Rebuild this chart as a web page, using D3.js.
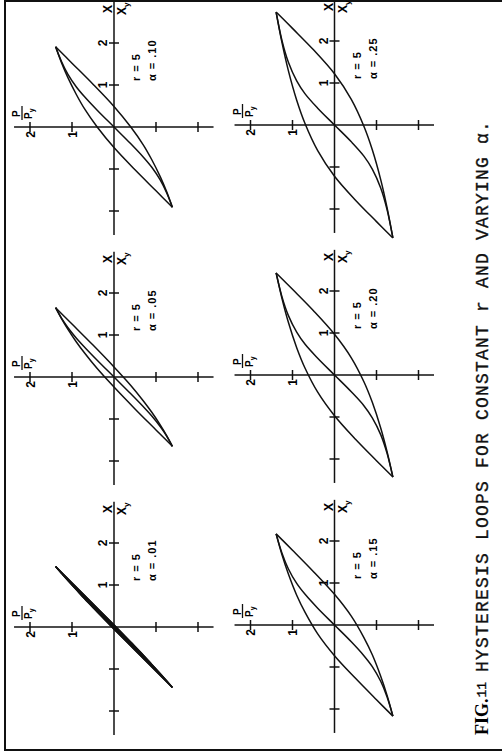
<!DOCTYPE html>
<html>
<head>
<meta charset="utf-8">
<script src="https://cdn.jsdelivr.net/npm/d3@7"></script>
<style>
  body { margin: 0; background: #fff; }
  svg { display: block; }
</style>
</head>
<body>
<svg id="chart" width="502" height="755"></svg>
<script>
// values, [X/Xy, P/Py]
var alphaLabels = [".01", ".05", ".10", ".15", ".20", ".25"];
var rLabel = "5";
var tickValues = [-2, -1, 1, 2];
var tickLabels = [1, 2];

// branch from the + tip down to the - tip
var down01 = [[1.44,1.39],[1.05,1.0],[0.55,0.5],[0.05,0],[-0.36,-0.4],[-0.67,-0.7],[-0.89,-0.9],[-1.11,-1.1],[-1.28,-1.25],[-1.44,-1.39]];
var up01 = [[-1.44,-1.39],[-1.05,-1.0],[-0.55,-0.5],[-0.05,0],[0.36,0.4],[0.67,0.7],[0.89,0.9],[1.11,1.1],[1.28,1.25],[1.44,1.39]];
var skel01 = [[-1.44,-1.39],[-1.28,-1.25],[-1.12,-1.1],[-0.91,-0.9],[-0.70,-0.7],[-0.40,-0.4],[0,0],[0.40,0.4],[0.70,0.7],[0.91,0.9],[1.12,1.1],[1.28,1.25],[1.44,1.39]];

var down05 = [[1.65,1.39],[1.26,1.0],[0.76,0.5],[0.24,0],[-0.20,-0.4],[-0.57,-0.7],[-0.84,-0.9],[-1.14,-1.1],[-1.39,-1.25],[-1.65,-1.39]];
var up05 = [[-1.65,-1.39],[-1.26,-1.0],[-0.76,-0.5],[-0.24,0],[0.20,0.4],[0.57,0.7],[0.84,0.9],[1.14,1.1],[1.39,1.25],[1.65,1.39]];
var skel05 = [[-1.65,-1.39],[-1.40,-1.25],[-1.18,-1.1],[-0.93,-0.9],[-0.71,-0.7],[-0.40,-0.4],[0,0],[0.40,0.4],[0.71,0.7],[0.93,0.9],[1.18,1.1],[1.40,1.25],[1.65,1.39]];

var down10 = [[1.91,1.39],[1.52,1.0],[1.02,0.5],[0.49,0],[0.00,-0.4],[-0.43,-0.7],[-0.78,-0.9],[-1.18,-1.1],[-1.53,-1.25],[-1.91,-1.39]];
var up10 = [[-1.91,-1.39],[-1.52,-1.0],[-1.02,-0.5],[-0.49,0],[0.00,0.4],[0.43,0.7],[0.78,0.9],[1.18,1.1],[1.53,1.25],[1.91,1.39]];
var skel10 = [[-1.91,-1.39],[-1.56,-1.25],[-1.26,-1.1],[-0.96,-0.9],[-0.72,-0.7],[-0.40,-0.4],[0,0],[0.40,0.4],[0.72,0.7],[0.96,0.9],[1.26,1.1],[1.56,1.25],[1.91,1.39]];

var down15 = [[2.17,1.39],[1.78,1.0],[1.27,0.5],[0.73,0],[0.21,-0.4],[-0.30,-0.7],[-0.71,-0.9],[-1.22,-1.1],[-1.67,-1.25],[-2.17,-1.39]];
var up15 = [[-2.17,-1.39],[-1.78,-1.0],[-1.27,-0.5],[-0.73,0],[-0.21,0.4],[0.30,0.7],[0.71,0.9],[1.22,1.1],[1.67,1.25],[2.17,1.39]];
var skel15 = [[-2.17,-1.39],[-1.71,-1.25],[-1.34,-1.1],[-0.99,-0.9],[-0.73,-0.7],[-0.40,-0.4],[0,0],[0.40,0.4],[0.73,0.7],[0.99,0.9],[1.34,1.1],[1.71,1.25],[2.17,1.39]];

var down20 = [[2.43,1.39],[2.04,1.0],[1.53,0.5],[0.97,0],[0.41,-0.4],[-0.16,-0.7],[-0.65,-0.9],[-1.26,-1.1],[-1.82,-1.25],[-2.43,-1.39]];
var up20 = [[-2.43,-1.39],[-2.04,-1.0],[-1.53,-0.5],[-0.97,0],[-0.41,0.4],[0.16,0.7],[0.65,0.9],[1.26,1.1],[1.82,1.25],[2.43,1.39]];
var skel20 = [[-2.43,-1.39],[-1.86,-1.25],[-1.42,-1.1],[-1.02,-0.9],[-0.73,-0.7],[-0.40,-0.4],[0,0],[0.40,0.4],[0.73,0.7],[1.02,0.9],[1.42,1.1],[1.86,1.25],[2.43,1.39]];

var down25 = [[2.69,1.39],[2.30,1.0],[1.79,0.5],[1.22,0],[0.61,-0.4],[-0.03,-0.7],[-0.59,-0.9],[-1.30,-1.1],[-1.96,-1.25],[-2.69,-1.39]];
var up25 = [[-2.69,-1.39],[-2.30,-1.0],[-1.79,-0.5],[-1.22,0],[-0.61,0.4],[0.03,0.7],[0.59,0.9],[1.30,1.1],[1.96,1.25],[2.69,1.39]];
var skel25 = [[-2.69,-1.39],[-2.01,-1.25],[-1.50,-1.1],[-1.05,-0.9],[-0.74,-0.7],[-0.40,-0.4],[0,0],[0.40,0.4],[0.74,0.7],[1.05,0.9],[1.50,1.1],[2.01,1.25],[2.69,1.39]];

var downs = [down01, down05, down10, down15, down20, down25];
var ups = [up01, up05, up10, up15, up20, up25];
var skels = [skel01, skel05, skel10, skel15, skel20, skel25];

var svg = d3.select("#chart");
svg.append("rect").attr("width", 502).attr("height", 755).attr("fill", "#fff");

// the figure is laid out landscape, then turned a quarter turn
var fig = svg.append("g").attr("transform", "translate(0,755) rotate(-90)");

// frame
fig.append("path")
	.attr("d", "M5,512 L5,5 L754,5 L754,512")
	.attr("fill", "none")
	.attr("stroke", "#111")
	.attr("stroke-width", 2);

var unit = 42;
var font = "'Liberation Sans', Arial, sans-serif";

alphaLabels.forEach(function (a, i) {
	var col = i % 3, row = Math.floor(i / 3);
	var u0 = 128 + 250 * col + 2 * row;
	var v0 = row == 0 ? 114 : 334.5;

	var xs = d3.scaleLinear().domain([0, 1]).range([u0, u0 + unit]);
	var ps = d3.scaleLinear().domain([0, 1]).range([v0, v0 - unit]);

	var g = fig.append("g").attr("class", "panel");

	// axes
	g.append("line")
		.attr("x1", xs(-2.57)).attr("x2", xs(2.98))
		.attr("y1", ps(0)).attr("y2", ps(0))
		.attr("stroke", "#111").attr("stroke-width", 1.5);
	g.append("line")
		.attr("x1", xs(0)).attr("x2", xs(0))
		.attr("y1", ps(2.38)).attr("y2", ps(-2.37))
		.attr("stroke", "#111").attr("stroke-width", 1.5);

	// ticks crossing the axes
	g.selectAll(".xt").data(tickValues).enter().append("line")
		.attr("x1", function (d) { return xs(d); }).attr("x2", function (d) { return xs(d); })
		.attr("y1", v0 - 5).attr("y2", v0 + 5)
		.attr("stroke", "#111").attr("stroke-width", 1.5);
	g.selectAll(".pt").data(tickValues).enter().append("line")
		.attr("x1", u0 - 5).attr("x2", u0 + 5)
		.attr("y1", function (d) { return ps(d); }).attr("y2", function (d) { return ps(d); })
		.attr("stroke", "#111").attr("stroke-width", 1.5);

	// tick labels
	g.selectAll(".xl").data(tickLabels).enter().append("text")
		.attr("x", function (d) { return xs(d); })
		.attr("y", v0 - 7)
		.attr("text-anchor", "middle")
		.attr("font-family", font).attr("font-weight", "bold").attr("font-size", 12)
		.text(function (d) { return d; });
	g.selectAll(".pl").data(tickLabels).enter().append("text")
		.attr("x", u0 - 4)
		.attr("y", function (d) { return ps(d) + 4.5; })
		.attr("text-anchor", "end")
		.attr("font-family", font).attr("font-weight", "bold").attr("font-size", 12)
		.text(function (d) { return d; });

	// X / Xy at the end of the x axis
	g.append("text").attr("x", u0 + 118).attr("y", v0 - 2)
		.attr("text-anchor", "middle")
		.attr("font-family", font).attr("font-weight", "bold").attr("font-size", 12)
		.text("X");
	var dx = g.append("text").attr("x", u0 + 112).attr("y", v0 + 12)
		.attr("font-family", font).attr("font-weight", "bold").attr("font-size", 12);
	dx.append("tspan").text("X");
	dx.append("tspan").attr("font-size", 8).attr("dy", 3).text("y");

	// P / Py by the top of the p axis
	var pb = v0 - 92;
	g.append("line").attr("x1", u0 + 7).attr("x2", u0 + 21)
		.attr("y1", pb).attr("y2", pb)
		.attr("stroke", "#111").attr("stroke-width", 1.3);
	g.append("text").attr("x", u0 + 10).attr("y", pb - 2)
		.attr("font-family", font).attr("font-weight", "bold").attr("font-size", 10)
		.text("P");
	var dp = g.append("text").attr("x", u0 + 8).attr("y", pb + 10)
		.attr("font-family", font).attr("font-weight", "bold").attr("font-size", 10);
	dp.append("tspan").text("P");
	dp.append("tspan").attr("font-size", 7).attr("dy", 2).text("y");

	// r and alpha
	g.append("text").attr("x", u0 + 46).attr("y", v0 + 26)
		.attr("font-family", font).attr("font-weight", "bold").attr("font-size", 11)
		.attr("letter-spacing", 1)
		.text("r = " + rLabel);
	g.append("text").attr("x", u0 + 46).attr("y", v0 + 42)
		.attr("font-family", font).attr("font-weight", "bold").attr("font-size", 11)
		.attr("letter-spacing", 1)
		.text("\u03b1 = " + a);

	var line = d3.line()
		.x(function (d) { return xs(d[0]); })
		.y(function (d) { return ps(d[1]); })
		.curve(d3.curveCatmullRom.alpha(0.5));

	if (i == 0) {
		// the thin loop prints as a solid band
		g.append("path")
			.attr("d", line(downs[i]) + "L" + line(ups[i]).slice(1) + "Z")
			.attr("fill", "#111").attr("stroke", "#111").attr("stroke-width", 1.4);
	}
	[downs[i], ups[i], skels[i]].forEach(function (s) {
		g.append("path")
			.attr("d", line(s))
			.attr("fill", "none")
			.attr("stroke", "#111")
			.attr("stroke-width", 1.5)
			.attr("stroke-linejoin", "round");
	});
});

// caption
var cap = fig.append("g");
var figText = cap.append("text").attr("x", 20).attr("y", 488)
	.attr("font-family", "'Liberation Serif', serif").attr("font-weight", "bold").attr("font-size", 18)
	.text("FIG.");
var figEnd = 20 + figText.node().getComputedTextLength();
cap.append("text").attr("x", figEnd + 1).attr("y", 486)
	.attr("font-family", "'Liberation Mono', monospace").attr("font-size", 13)
	.attr("stroke", "#111").attr("stroke-width", 0.3)
	.text("11");
cap.append("text").attr("x", 83).attr("y", 488)
	.attr("font-family", "'Liberation Mono', 'Courier New', monospace").attr("font-size", 18)
	.attr("letter-spacing", 1.2)
	.attr("fill", "#111").attr("stroke", "#111").attr("stroke-width", 0.35)
	.text("HYSTERESIS LOOPS FOR CONSTANT r AND VARYING \u03b1.");
</script>
</body>
</html>
